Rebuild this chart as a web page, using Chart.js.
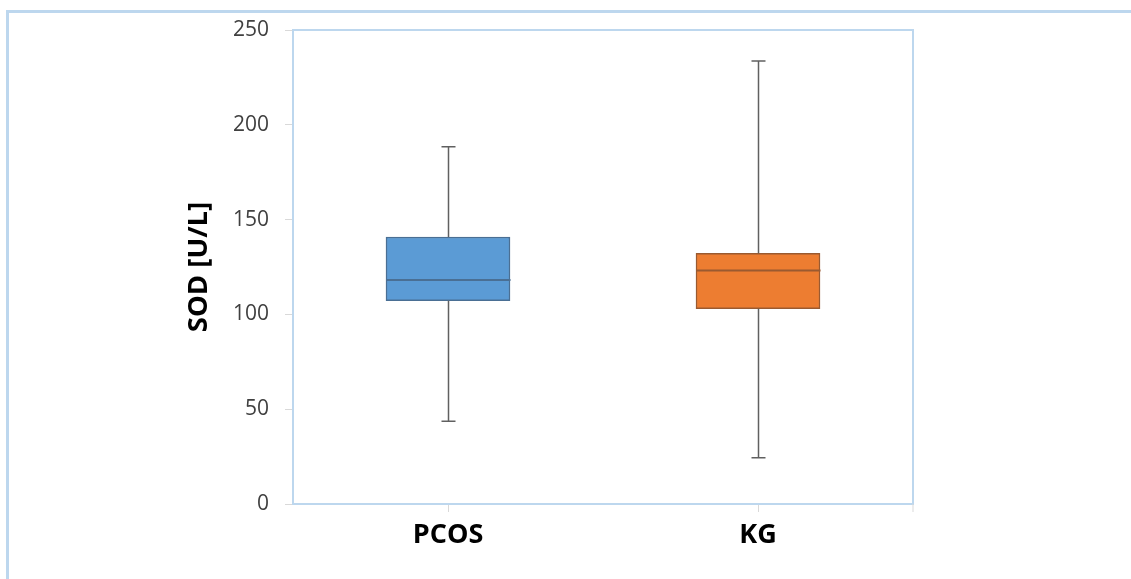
<!DOCTYPE html>
<html>
<head>
<meta charset="utf-8">
<script src="https://cdn.jsdelivr.net/npm/chart.js@4/dist/chart.umd.min.js"></script>
<style>
  html, body { margin: 0; padding: 0; background: #fff; }
  #wrap { width: 1131px; height: 579px; position: relative; }
</style>
</head>
<body>
<div id="wrap"><canvas id="box_chart"></canvas></div>
<script>
// data
var groups = ["PCOS", "KG"];
var whiskerMin = [43.6, 24.4];
var boxQ1 = [107.2, 103.0];
var boxMedian = [118.1, 123.2];
var boxQ3 = [140.8, 132.2];
var whiskerMax = [188.4, 233.6];
var yTicks = [0, 50, 100, 150, 200, 250];

var fillColors = ['#5b9bd5', '#ed7d31'];
var edgeColors = ['#4a6f94', '#9a5a30'];
var frameBlue = '#bdd7ee';

function eachIdx(arr, fn){
    for (var i = 0; i < arr.length; i++) fn(i, arr[i]);
}

// boxes are floating bars, whiskers + medians drawn from the same scales
var boxData = [];
eachIdx(groups, function(i){ boxData.push([boxQ1[i], boxQ3[i]]); });

var framePlugin = {
    id: 'frame',
    beforeDraw: function(chart){
        var ctx = chart.ctx;
        ctx.save();
        ctx.strokeStyle = frameBlue;
        ctx.lineWidth = 3;
        ctx.beginPath();
        ctx.moveTo(7.5, 579);
        ctx.lineTo(7.5, 11.5);
        ctx.lineTo(1131, 11.5);
        ctx.stroke();
        ctx.restore();
    },
    afterDatasetsDraw: function(chart){
        var ctx = chart.ctx;
        var a = chart.chartArea;
        var xs = chart.scales.x, ys = chart.scales.y;
        ctx.save();
        // top + right border of plot
        ctx.strokeStyle = frameBlue;
        ctx.lineWidth = 2;
        ctx.beginPath();
        ctx.moveTo(a.left, a.top);
        ctx.lineTo(a.right, a.top);
        ctx.lineTo(a.right, a.bottom);
        ctx.stroke();
        ctx.strokeStyle = '#d9d9d9';
        ctx.lineWidth = 1;
        ctx.beginPath();
        ctx.moveTo(a.right, a.bottom);
        ctx.lineTo(a.right, a.bottom + 8);
        ctx.stroke();

        var meta = chart.getDatasetMeta(0);
        eachIdx(groups, function(i){
            var bar = meta.data[i];
            var cx = Math.round(xs.getPixelForValue(i)) + 0.5;
            var half = bar.width / 2;
            var yMax = ys.getPixelForValue(whiskerMax[i]);
            var yMin = ys.getPixelForValue(whiskerMin[i]);
            var yQ1 = ys.getPixelForValue(boxQ1[i]);
            var yQ3 = ys.getPixelForValue(boxQ3[i]);
            var yMed = ys.getPixelForValue(boxMedian[i]);
            // whiskers
            ctx.strokeStyle = '#606060';
            ctx.lineWidth = 1.5;
            ctx.beginPath();
            ctx.moveTo(cx, yQ3); ctx.lineTo(cx, yMax);
            ctx.moveTo(cx - 7, yMax); ctx.lineTo(cx + 7, yMax);
            ctx.moveTo(cx, yQ1); ctx.lineTo(cx, yMin);
            ctx.moveTo(cx - 7, yMin); ctx.lineTo(cx + 7, yMin);
            ctx.stroke();
            // median
            ctx.strokeStyle = edgeColors[i];
            ctx.lineWidth = 2;
            ctx.beginPath();
            ctx.moveTo(cx - half, yMed); ctx.lineTo(cx + half, yMed);
            ctx.stroke();
        });
        ctx.restore();
    }
};

var config = {
    type: 'bar',
    data: {
        labels: groups,
        datasets: [{
            label: 'SOD',
            data: boxData,
            backgroundColor: fillColors,
            borderColor: edgeColors,
            borderWidth: 1.5,
            borderSkipped: false,
            barThickness: 124
        }]
    },
    options: {
        responsive: false,
        animation: false,
        layout: { padding: { left: 180, right: 218, top: 30, bottom: 0 } },
        plugins: {
            legend: { display: false },
            tooltip: { enabled: false }
        },
        scales: {
            x: {
                afterFit: function(scale){ scale.height = 75; },
                grid: {
                    offset: false,
                    drawOnChartArea: false,
                    drawTicks: true,
                    tickLength: 8,
                    tickColor: '#d9d9d9'
                },
                border: { color: frameBlue, width: 2 },
                ticks: {
                    color: '#000',
                    padding: 7,
                    font: { family: "'Open Sans', 'Noto Sans', sans-serif", size: 27, weight: 'bold' }
                }
            },
            y: {
                min: 0,
                max: 250,
                afterFit: function(scale){ scale.width = 113; },
                afterBuildTicks: function(scale){
                    scale.ticks = yTicks.map(function(v){ return { value: v }; });
                },
                grid: {
                    drawOnChartArea: false,
                    drawTicks: true,
                    tickLength: 8,
                    tickColor: '#d9d9d9'
                },
                border: { color: frameBlue, width: 2 },
                ticks: {
                    color: '#404040',
                    padding: 16,
                    font: { family: "'Open Sans', 'Noto Sans', sans-serif", size: 21 }
                },
                title: {
                    display: true,
                    text: 'SOD [U/L]',
                    color: '#000',
                    padding: { top: 3, bottom: 0 },
                    font: { family: "'Open Sans', 'Noto Sans', sans-serif", size: 27.5, weight: 'bold' }
                }
            }
        }
    },
    plugins: [framePlugin]
};

var c = document.getElementById('box_chart');
c.width = 1131;
c.height = 579;
var boxChart = new Chart(c.getContext('2d'), config);
</script>
</body>
</html>
